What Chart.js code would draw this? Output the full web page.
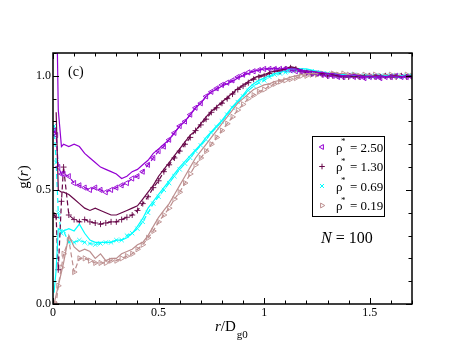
<!DOCTYPE html>
<html>
<head>
<meta charset="utf-8">
<script src="https://cdn.jsdelivr.net/npm/chart.js@4/dist/chart.umd.min.js"></script>
<style>
  body { margin: 0; background: #fff; }
  #wrap { width: 463px; height: 358px; }
</style>
</head>
<body>
<div id="wrap"><canvas id="grChart"></canvas></div>
<script>
// r / D_g0 sample positions
const rGrid = [0.005, 0.015, 0.025, 0.04, 0.05,
  0.075, 0.1, 0.125, 0.15, 0.175, 0.2, 0.225, 0.25, 0.275, 0.3,
  0.325, 0.35, 0.375, 0.4, 0.425, 0.45, 0.475, 0.5, 0.525, 0.55,
  0.575, 0.6, 0.625, 0.65, 0.675, 0.7, 0.725, 0.75, 0.775, 0.8,
  0.825, 0.85, 0.875, 0.9, 0.925, 0.95, 0.975, 1.0, 1.025, 1.05,
  1.075, 1.1, 1.125, 1.15, 1.175, 1.2, 1.225, 1.25, 1.275, 1.3,
  1.325, 1.35, 1.375, 1.4, 1.425, 1.45, 1.475, 1.5, 1.525, 1.55,
  1.575, 1.6, 1.625, 1.65, 1.675, 1.7];

// rho* = 2.50
const g250Solid = [null, 1.45, 0.85, 0.69, 0.70,
  0.69, 0.70, 0.69, 0.66, 0.64, 0.62, 0.60, 0.59, 0.58, 0.57,
  0.55, 0.56, 0.58, 0.59, 0.61, 0.63, 0.66, 0.68, 0.70, 0.72,
  0.75, 0.78, 0.80, 0.83, 0.86, 0.88, 0.91, 0.93, 0.94, 0.955,
  0.965, 0.975, 0.99, 1.0, 1.01, 1.02, 1.025, 1.03, 1.03, 1.035,
  1.03, 1.035, 1.03, 1.03, 1.025, 1.02, 1.02, 1.015, 1.015, 1.01,
  1.01, 1.005, 1.0, 1.0, 1.005, 1.0, 0.995, 1.0, 0.995, 1.0,
  0.995, 1.0, 0.995, 0.995, 1.0, 0.995];
const g250Dashed = [0.76, 0.74, 0.60, 0.57, 0.57,
  0.56, 0.53, 0.52, 0.51, 0.50, 0.51, 0.50, 0.49, 0.50, 0.51,
  0.52, 0.53, 0.55, 0.56, 0.58, 0.61, 0.64, 0.67, 0.69, 0.72,
  0.75, 0.78, 0.80, 0.83, 0.86, 0.88, 0.91, 0.93, 0.945, 0.96,
  0.97, 0.98, 0.995, 1.005, 1.015, 1.02, 1.025, 1.03, 1.03, 1.03,
  1.03, 1.03, 1.025, 1.02, 1.02, 1.015, 1.01, 1.01, 1.005, 1.0,
  1.0, 0.995, 0.995, 1.0, 0.995, 0.995, 0.99, 0.995, 0.995, 0.99,
  0.995, 0.995, 1.0, 0.995, 0.995, 0.995];

// rho* = 1.30
const g130Solid = [null, 0.84, 0.50, 0.49, 0.49,
  0.48, 0.46, 0.44, 0.42, 0.41, 0.42, 0.41, 0.40, 0.39, 0.39,
  0.40, 0.41, 0.42, 0.43, 0.46, 0.49, 0.52, 0.56, 0.59, 0.62,
  0.65, 0.68, 0.71, 0.74, 0.76, 0.79, 0.82, 0.845, 0.865, 0.885,
  0.905, 0.925, 0.945, 0.96, 0.975, 0.99, 1.0, 1.005, 1.015, 1.02,
  1.025, 1.03, 1.04, 1.035, 1.025, 1.02, 1.02, 1.015, 1.01, 1.01,
  1.005, 1.0, 1.0, 1.0, 0.995, 1.0, 1.0, 0.995, 1.0, 1.0,
  0.995, 1.0, 1.0, 0.995, 1.0, 1.0];
const g130Dashed = [0.39, 0.38, 0.15, 0.45, 0.60,
  0.39, 0.37, 0.36, 0.37, 0.36, 0.355, 0.35, 0.355, 0.36, 0.36,
  0.37, 0.38, 0.39, 0.41, 0.44, 0.47, 0.51, 0.54, 0.58, 0.61,
  0.64, 0.67, 0.70, 0.73, 0.76, 0.785, 0.81, 0.84, 0.86, 0.88,
  0.90, 0.92, 0.94, 0.955, 0.97, 0.985, 0.995, 1.0, 1.01, 1.02,
  1.02, 1.03, 1.035, 1.03, 1.02, 1.015, 1.01, 1.01, 1.005, 1.0,
  1.0, 1.0, 0.995, 0.995, 1.0, 0.995, 0.995, 1.0, 0.995, 0.995,
  1.0, 0.995, 0.995, 1.0, 0.995, 0.995];

// rho* = 0.69
const g069Solid = [0.05, 0.15, 0.33, 0.32, 0.32,
  0.33, 0.32, 0.35, 0.31, 0.28, 0.27, 0.27, 0.27, 0.27, 0.28,
  0.28, 0.29, 0.31, 0.34, 0.375, 0.42, 0.45, 0.48, 0.51, 0.54,
  0.57, 0.60, 0.625, 0.65, 0.675, 0.70, 0.73, 0.755, 0.78, 0.805,
  0.835, 0.865, 0.89, 0.915, 0.945, 0.965, 0.98, 0.99, 1.0, 1.01,
  1.015, 1.02, 1.03, 1.03, 1.03, 1.03, 1.025, 1.02, 1.015, 1.01,
  1.01, 1.005, 1.005, 1.0, 1.0, 1.0, 1.0, 1.0, 0.995, 1.0,
  1.0, 1.0, 0.995, 1.0, 1.0, 1.0];
const g069Dashed = [0.78, 0.62, 0.40, 0.31, 0.32,
  0.27, 0.27, 0.28, 0.27, 0.265, 0.26, 0.265, 0.27, 0.27, 0.28,
  0.28, 0.30, 0.31, 0.33, 0.36, 0.40, 0.44, 0.47, 0.50, 0.53,
  0.56, 0.59, 0.615, 0.64, 0.67, 0.695, 0.72, 0.75, 0.775, 0.80,
  0.83, 0.86, 0.885, 0.91, 0.935, 0.955, 0.97, 0.98, 0.995, 1.005,
  1.01, 1.015, 1.02, 1.025, 1.025, 1.02, 1.02, 1.015, 1.01, 1.01,
  1.005, 1.0, 1.0, 1.0, 1.005, 1.0, 1.0, 0.995, 1.0, 1.0,
  1.0, 1.0, 1.0, 0.995, 1.0, 1.0];

// rho* = 0.19
const g019Solid = [0.0, 0.04, 0.08, 0.14, 0.18,
  0.30, 0.25, 0.23, 0.24, 0.23, 0.20, 0.22, 0.19, 0.20, 0.20,
  0.22, 0.23, 0.24, 0.26, 0.27, 0.30, 0.34, 0.38, 0.41, 0.44,
  0.48, 0.52, 0.56, 0.60, 0.64, 0.67, 0.70, 0.73, 0.76, 0.79,
  0.82, 0.85, 0.88, 0.90, 0.92, 0.94, 0.95, 0.96, 0.965, 0.975,
  0.98, 0.985, 0.995, 1.0, 1.005, 1.01, 1.01, 1.01, 1.015, 1.01,
  1.015, 1.01, 1.01, 1.005, 1.01, 1.005, 1.0, 1.005, 1.0, 1.0,
  1.005, 1.0, 1.0, 1.0, 1.0, 1.0];
const g019Dashed = [0.0, 0.0, 0.08, 0.16, 0.22,
  0.28, 0.14, 0.20, 0.20, 0.19, 0.18, 0.18, 0.18, 0.19, 0.19,
  0.20, 0.21, 0.22, 0.24, 0.26, 0.29, 0.32, 0.36, 0.39, 0.42,
  0.46, 0.49, 0.53, 0.57, 0.61, 0.64, 0.67, 0.70, 0.73, 0.76,
  0.79, 0.82, 0.85, 0.875, 0.90, 0.915, 0.93, 0.94, 0.955, 0.965,
  0.975, 0.98, 0.985, 0.99, 1.0, 1.0, 1.005, 1.005, 1.01, 1.005,
  1.01, 1.005, 1.01, 1.005, 1.005, 1.0, 1.005, 1.0, 1.005, 1.0,
  1.0, 1.005, 1.0, 1.0, 1.005, 1.0];

const densityLabels = ['2.50', '1.30', '0.69', '0.19'];
const seriesColors = ['rgb(148,0,211)', 'rgb(103,7,72)', 'rgb(0,255,255)', 'rgb(188,143,143)'];
const seriesMarkers = [
  { style: 'triangle', rot: -90 },
  { style: 'cross', rot: 0 },
  { style: 'crossRot', rot: 0 },
  { style: 'triangle', rot: 90 }
];
const solidSets = [g250Solid, g130Solid, g069Solid, g019Solid];
const dashedSets = [g250Dashed, g130Dashed, g069Dashed, g019Dashed];

const xTickLabels = ['0', '0.5', '1', '1.5'];
const yTickLabels = ['0.0', '0.5', '1.0'];

const SERIF = '"Liberation Serif", "DejaVu Serif", serif';

function toPoints(ys) {
  return rGrid.map((r, i) => ({ x: r, y: ys[i] })).filter(p => p.y !== null);
}

let datasets = [];
solidSets.forEach((ys, i) => {
  datasets.push({
    label: 'solid ' + densityLabels[i],
    data: toPoints(ys),
    borderColor: seriesColors[i],
    borderWidth: 1.2,
    pointRadius: 0,
    tension: 0,
    clip: 0
  });
});
dashedSets.forEach((ys, i) => {
  datasets.push({
    label: 'dashed ' + densityLabels[i],
    data: toPoints(ys),
    borderColor: seriesColors[i],
    borderWidth: 1.2,
    borderDash: [5, 3],
    pointStyle: seriesMarkers[i].style,
    rotation: seriesMarkers[i].rot,
    pointRadius: 3,
    pointBorderWidth: 0.9,
    pointBorderColor: seriesColors[i],
    pointBackgroundColor: 'rgba(0,0,0,0)',
    tension: 0,
    clip: 0
  });
});

const decorations = {
  id: 'decorations',
  afterDraw(chart) {
    const ctx = chart.ctx;
    const { left, right, top, bottom } = chart.chartArea;
    const xs = chart.scales.x, ys = chart.scales.y;
    ctx.save();
    ctx.strokeStyle = '#000';
    ctx.fillStyle = '#000';

    // frame
    ctx.lineWidth = 1.5;
    ctx.strokeRect(left, top, right - left, bottom - top);

    // inward ticks on all four sides
    ctx.lineWidth = 1;
    for (let i = 0; i <= 17; i++) {
      const px = Math.round(xs.getPixelForValue(i / 10)) + 0.5;
      const len = i % 5 === 0 ? 6 : 3.5;
      ctx.beginPath();
      ctx.moveTo(px, bottom); ctx.lineTo(px, bottom - len);
      ctx.moveTo(px, top); ctx.lineTo(px, top + len);
      ctx.stroke();
    }
    for (let i = 0; i <= 11; i++) {
      const py = Math.round(ys.getPixelForValue(i / 10)) + 0.5;
      const len = i % 5 === 0 ? 6 : 3.5;
      ctx.beginPath();
      ctx.moveTo(left, py); ctx.lineTo(left + len, py);
      ctx.moveTo(right, py); ctx.lineTo(right - len, py);
      ctx.stroke();
    }

    // tick labels
    ctx.font = '12px ' + SERIF;
    ctx.textAlign = 'center';
    ctx.textBaseline = 'top';
    xTickLabels.forEach(t => ctx.fillText(t, xs.getPixelForValue(parseFloat(t)), bottom + 3));
    ctx.textAlign = 'right';
    ctx.textBaseline = 'middle';
    yTickLabels.forEach(t => ctx.fillText(t, left - 2, ys.getPixelForValue(parseFloat(t))));

    // y title g(r)
    ctx.save();
    ctx.translate(28, 177);
    ctx.rotate(-Math.PI / 2);
    ctx.textAlign = 'left';
    ctx.textBaseline = 'alphabetic';
    const up = '15px ' + SERIF, it = 'italic 15px ' + SERIF;
    ctx.font = up; const w1 = ctx.measureText('g(').width, w3 = ctx.measureText(')').width;
    ctx.font = it; const w2 = ctx.measureText('r').width;
    let x0 = -(w1 + w2 + w3) / 2;
    ctx.font = up; ctx.fillText('g(', x0, 0);
    ctx.font = it; ctx.fillText('r', x0 + w1, 0);
    ctx.font = up; ctx.fillText(')', x0 + w1 + w2, 0);
    ctx.restore();

    // x title r/D_g0
    ctx.textAlign = 'left';
    ctx.textBaseline = 'alphabetic';
    let cx = 215;
    ctx.font = it; ctx.fillText('r', cx, 331); cx += ctx.measureText('r').width;
    ctx.font = up; ctx.fillText('/D', cx, 331); cx += ctx.measureText('/D').width + 1;
    ctx.font = '11px ' + SERIF; ctx.fillText('g0', cx, 338);

    // panel label and N
    ctx.font = '14px ' + SERIF;
    ctx.fillText('(c)', 68, 76);
    ctx.font = 'italic 16px ' + SERIF;
    ctx.fillText('N', 321, 243);
    let nw = ctx.measureText('N').width;
    ctx.font = '16px ' + SERIF;
    ctx.fillText(' = 100', 321 + nw, 243);

    // legend
    ctx.fillStyle = '#fff';
    ctx.fillRect(312, 136, 72, 80);
    ctx.lineWidth = 1;
    ctx.strokeStyle = '#000';
    ctx.strokeRect(312.5, 136.5, 72, 80);
    densityLabels.forEach((d, i) => {
      const yy = 147 + i * 19.5;
      ctx.strokeStyle = seriesColors[i];
      ctx.fillStyle = 'rgba(0,0,0,0)';
      Chart.helpers.drawPoint(ctx, {
        pointStyle: seriesMarkers[i].style,
        rotation: seriesMarkers[i].rot,
        radius: 2.8,
        borderWidth: 0.9
      }, 322, yy);
      ctx.fillStyle = '#000';
      ctx.font = '13px ' + SERIF;
      ctx.fillText('\u03C1', 336, yy + 4.5);
      ctx.font = '9px ' + SERIF;
      ctx.fillText('*', 341, yy - 3);
      ctx.font = '13px ' + SERIF;
      ctx.fillText('= ' + d, 350, yy + 4.5);
    });
    ctx.restore();
  }
};

new Chart(document.getElementById('grChart'), {
  type: 'line',
  data: { datasets: datasets },
  options: {
    responsive: true,
    maintainAspectRatio: false,
    animation: false,
    layout: { padding: { left: 53, right: 51, top: 53, bottom: 54 } },
    plugins: { legend: { display: false }, tooltip: { enabled: false } },
    scales: {
      x: { type: 'linear', min: 0, max: 1.7, display: false },
      y: { type: 'linear', min: 0, max: 1.1, display: false }
    }
  },
  plugins: [decorations]
});
</script>
</body>
</html>
